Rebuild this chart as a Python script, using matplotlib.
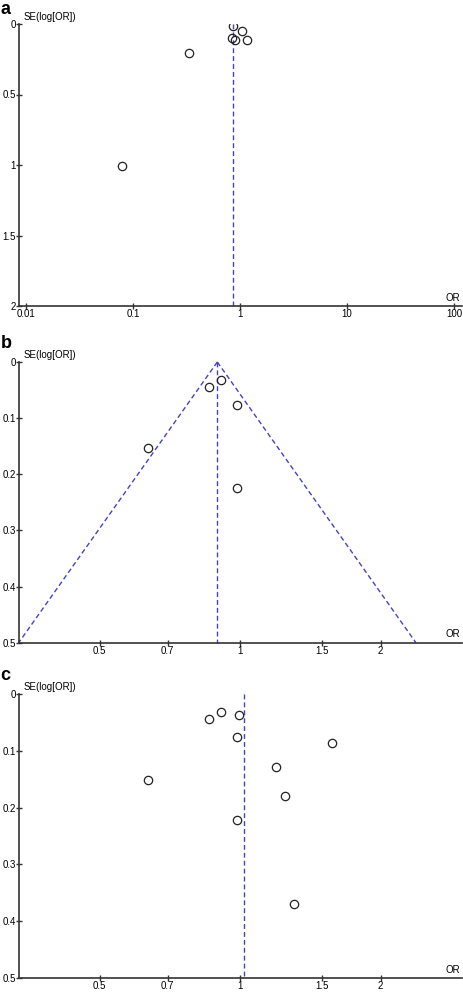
import matplotlib
matplotlib.use("Agg")
import matplotlib.pyplot as plt
import numpy as np

plt.rcParams["font.family"] = ["Liberation Sans", "DejaVu Sans"]

# panel a: all studies, wide OR range
a_or = [0.866, 1.044, 0.842, 0.904, 1.163, 0.332, 0.079]
a_se = [0.012, 0.048, 0.097, 0.116, 0.116, 0.208, 1.007]
a_pooled = 0.855
a_xticks = [0.01, 0.1, 1, 10, 100]
a_xlabels = ["0.01", "0.1", "1", "10", "100"]
a_yticks = [0, 0.5, 1, 1.5, 2]
a_ylabels = ["0", "0.5", "1", "1.5", "2"]

# panel b: subset with pseudo 95% CI funnel
b_or = [0.909, 0.857, 0.987, 0.984, 0.635]
b_se = [0.032, 0.045, 0.077, 0.225, 0.153]
b_pooled = 0.894

# panel c: subset plus additional studies
c_or = [0.909, 0.857, 0.997, 0.985, 0.635, 0.984, 1.573, 1.196, 1.251, 1.302]
c_se = [0.032, 0.044, 0.037, 0.076, 0.151, 0.221, 0.086, 0.128, 0.179, 0.369]
c_pooled = 1.02

bc_xticks = [0.5, 0.7, 1, 1.5, 2]
bc_xlabels = ["0.5", "0.7", "1", "1.5", "2"]
bc_yticks = [0, 0.1, 0.2, 0.3, 0.4, 0.5]
bc_ylabels = ["0", "0.1", "0.2", "0.3", "0.4", "0.5"]

W, H = 463, 992
fig = plt.figure(figsize=(W / 100, H / 100), dpi=100)

blue = "#4343c4"
axis_col = "#333333"
fs = 7


def px_axes(left, top, right, bottom):
    return fig.add_axes([left / W, 1 - bottom / H, (right - left) / W, (bottom - top) / H])


def style_axes(ax, xlim, ymax, xticks, xlabels, yticks, ylabels):
    ax.set_xscale("log")
    ax.set_xlim(*xlim)
    ax.set_ylim(ymax, 0)
    ax.set_xticks(xticks)
    ax.set_xticklabels(xlabels)
    ax.xaxis.set_minor_locator(matplotlib.ticker.NullLocator())
    ax.set_yticks(yticks)
    ax.set_yticklabels(ylabels)
    for s in ["top", "right"]:
        ax.spines[s].set_visible(False)
    for s in ["left", "bottom"]:
        ax.spines[s].set_color(axis_col)
        ax.spines[s].set_linewidth(1.2)
    ax.tick_params(direction="inout", length=4, width=1.0, color=axis_col,
                   labelsize=fs, pad=0.5)
    ax.patch.set_alpha(0)
    ax.annotate("SE(log[OR])", xy=(0, 1), xycoords="axes fraction",
                xytext=(3.5, 1.5), textcoords="offset points",
                ha="left", va="bottom", fontsize=fs)
    ax.annotate("OR", xy=(1, 0), xycoords="axes fraction",
                xytext=(-1.5, 2.5), textcoords="offset points",
                ha="right", va="bottom", fontsize=fs)


def scatter(ax, x, y):
    ax.plot(x, y, "o", ms=6, mfc="none", mec="#222222", mew=0.9,
            linestyle="none", zorder=3)


dash = dict(color=blue, lw=1.0, dashes=(3.5, 2.2), clip_on=False)

# ---- panel a
ax_a = px_axes(19, 24, 462, 306)
style_axes(ax_a, (10 ** -2.065, 10 ** 2.075), 2, a_xticks, a_xlabels, a_yticks, a_ylabels)
ax_a.plot([a_pooled, a_pooled], [0, 2], **dash)
scatter(ax_a, a_or, a_se)

# ---- panel b
ax_b = px_axes(19, 362, 462, 642.7)
style_axes(ax_b, (0.336, 2.99), 0.5, bc_xticks, bc_xlabels, bc_yticks, bc_ylabels)
ax_b.plot([b_pooled, b_pooled], [0, 0.5], **dash)
se_edge = np.array([0, 0.5])
ax_b.plot(b_pooled * np.exp(-1.96 * se_edge), se_edge, **dash)
ax_b.plot(b_pooled * np.exp(1.96 * se_edge), se_edge, **dash)
scatter(ax_b, b_or, b_se)

# ---- panel c
ax_c = px_axes(19, 694, 462, 978)
style_axes(ax_c, (0.336, 2.99), 0.5, bc_xticks, bc_xlabels, bc_yticks, bc_ylabels)
ax_c.plot([c_pooled, c_pooled], [0, 0.5], **dash)
scatter(ax_c, c_or, c_se)

# panel letters
for letter, y in [("a", 9), ("b", 343), ("c", 676)]:
    fig.text(0.5 / W, 1 - y / H, letter, fontsize=13, fontweight="bold",
             ha="left", va="center")

fig.savefig("out.png", dpi=100)
